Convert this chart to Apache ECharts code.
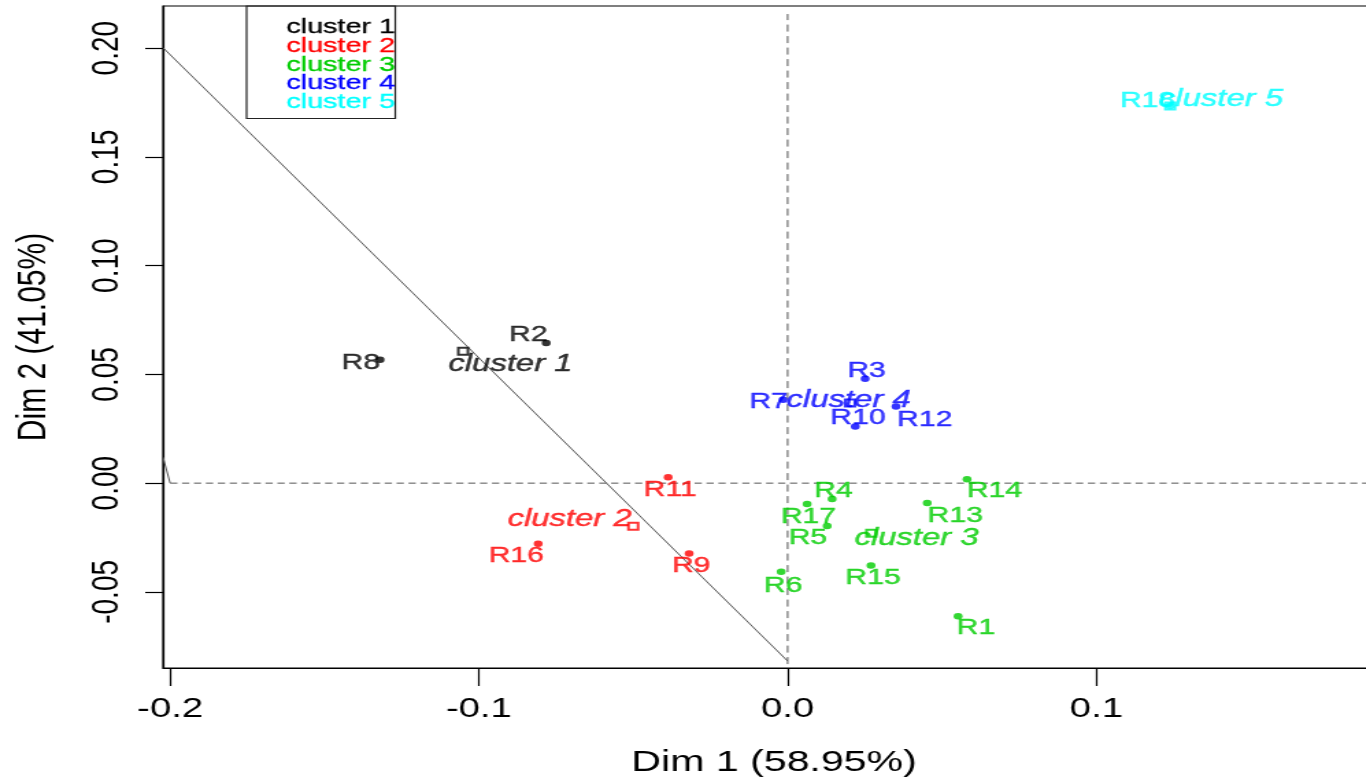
<!DOCTYPE html>
<html>
<head>
<meta charset="utf-8">
<script src="https://cdn.jsdelivr.net/npm/echarts@6/dist/echarts.min.js"></script>
<style>
  html, body { margin: 0; padding: 0; overflow: hidden; background: #fff; }
  /* the reference plot is stretched sideways, so draw narrow and widen it */
  #chart { width: 1011px; height: 783px; transform: scaleX(1.37); transform-origin: 0 0; }
</style>
</head>
<body>
<div id="chart"></div>
<script>
// individuals, Dim 1 / Dim 2 coordinates and their cluster (0-based)
let rowNames = ['R8', 'R2', 'R11', 'R16', 'R9', 'R14', 'R4', 'R17', 'R5', 'R13', 'R15', 'R6', 'R1', 'R3', 'R7', 'R12', 'R10', 'R18'];
let dim1 = [-0.1320, -0.0782, -0.0387, -0.0808, -0.0319, 0.0581, 0.0144, 0.0063, 0.0128, 0.0452, 0.0270, -0.0021, 0.0552, 0.0251, -0.0015, 0.0351, 0.0219, 0.1239];
let dim2 = [0.0567, 0.0644, 0.0027, -0.0279, -0.0324, 0.0018, -0.0073, -0.0096, -0.0197, -0.0091, -0.0379, -0.0407, -0.0612, 0.0480, 0.0384, 0.0352, 0.0261, 0.1734];
let clusterOf = [0, 0, 1, 1, 1, 2, 2, 2, 2, 2, 2, 2, 2, 3, 3, 3, 3, 4];

// cluster centres
let clusterNames = ['cluster 1', 'cluster 2', 'cluster 3', 'cluster 4', 'cluster 5'];
let centreDim1 = [-0.1051, -0.0500, 0.0271, 0.0202, 0.1239];
let centreDim2 = [0.0606, -0.0198, -0.0230, 0.0369, 0.1734];

// tick labels
let xTicks = [-0.2, -0.1, 0.0, 0.1];
let yTicks = [-0.05, 0.00, 0.05, 0.10, 0.15, 0.20];

// extra lines of the original plot
let diagLine = [[-0.2023, 0.2002], [0.0, -0.0818]];
let stubLine = [[-0.2023, 0.0119], [-0.2, 0.0]];

let colors = ['#000000', '#ff0000', '#00cd00', '#0000ff', '#00ffff'];
let font = 'Liberation Sans, Arial, sans-serif';

// where each text sits relative to its point (layout only)
let labelShift = {
  R8: [-14, 3], R2: [-13, -8], R11: [1.5, 13], R16: [-16, 12], R9: [1.5, 12],
  R14: [20, 12], R4: [1, -8], R17: [1, 13], R5: [-14, 12], R13: [20.5, 13],
  R15: [1.5, 12], R6: [1.5, 14], R1: [13, 12], R3: [1, -8], R7: [-10.5, 2],
  R12: [21, 13], R10: [2, -8], R18: [-16.5, -5]
};
let centreShift = [[34.5, 13], [-46.5, -7], [33, 5], [-1, -3], [37, -7]];

let xMin = -0.2023, xMax = 0.1935, yMin = -0.085, yMax = 0.2194;

let series = [];

let refLine = (data, type) => ({
  type: 'line', data: data, symbol: 'none', silent: true, z: 1,
  lineStyle: { color: '#555', width: 1, type: type }, animation: false
});
series.push(refLine(diagLine, 'solid'));
series.push(refLine(stubLine, 'solid'));
series.push(refLine([[-0.2, 0], [xMax, 0]], [5.3, 3.4]));
series.push(refLine([[0, -0.0832], [0, 0.2157]], [7, 4.5]));

clusterNames.forEach((name, k) => {
  let pts = [];
  for (let i = 0; i < rowNames.length; i++) {
    if (clusterOf[i] !== k) continue;
    pts.push({
      name: rowNames[i],
      value: [dim1[i], dim2[i]],
      label: { offset: labelShift[rowNames[i]] }
    });
  }
  series.push({
    name: name,
    type: 'scatter',
    symbol: 'circle',
    symbolSize: 6.5,
    z: 3,
    itemStyle: { color: colors[k] },
    label: {
      show: true, position: 'inside', formatter: '{b}',
      color: colors[k], fontSize: 22, fontFamily: font,
      textBorderColor: colors[k], textBorderWidth: 0.4,
      align: 'center', verticalAlign: 'middle'
    },
    data: pts,
    animation: false
  });
});

series.push({
  name: 'centres',
  type: 'scatter',
  symbol: 'emptyRect',
  symbolSize: 7,
  z: 2,
  data: clusterNames.map((n, k) => ({
    name: n,
    value: [centreDim1[k], centreDim2[k]],
    itemStyle: { color: colors[k], borderColor: colors[k] },
    label: { color: colors[k], textBorderColor: colors[k], offset: centreShift[k] }
  })),
  label: {
    show: true, position: 'inside', formatter: '{b}',
    fontSize: 24, fontStyle: 'italic', fontFamily: font, textBorderWidth: 0.4,
    align: 'center', verticalAlign: 'middle'
  },
  animation: false
});

let chart = echarts.init(document.getElementById('chart'));
chart.setOption({
  backgroundColor: '#fff',
  animation: false,
  textStyle: { fontFamily: font },
  grid: { left: 119, right: 0, top: 6, bottom: 111, show: true, borderColor: '#000', borderWidth: 1.2 },
  legend: {
    orient: 'vertical',
    left: 180, top: 6,
    icon: 'none',
    itemWidth: 0, itemHeight: 18.5, itemGap: -2.5,
    padding: [10.5, 0, 5.5, 24],
    borderColor: '#222', borderWidth: 1.2,
    selectedMode: false,
    textStyle: { fontSize: 21, fontFamily: font, textBorderWidth: 0.3 },
    data: clusterNames.map((n, k) => ({ name: n, textStyle: { color: colors[k], textBorderColor: colors[k] } }))
  },
  xAxis: {
    type: 'value', position: 'bottom', min: xMin, max: xMax,
    splitLine: { show: false },
    axisLine: { show: true, onZero: false, lineStyle: { color: '#000', width: 1.2 } },
    axisTick: { show: true, customValues: xTicks, length: 18, lineStyle: { color: '#000', width: 1.2 } },
    axisLabel: {
      customValues: xTicks, margin: 27, fontSize: 28, color: '#000', fontFamily: font,
      formatter: (v) => v.toFixed(1)
    },
    name: 'Dim 1 (58.95%)', nameLocation: 'middle', nameGap: 80,
    nameTextStyle: { fontSize: 30, color: '#000', fontFamily: font }
  },
  yAxis: {
    type: 'value', min: yMin, max: yMax,
    splitLine: { show: false },
    axisLine: { show: true, onZero: false, lineStyle: { color: '#000', width: 1.2 } },
    axisTick: { show: true, customValues: yTicks, length: 13, lineStyle: { color: '#000', width: 1.2 } },
    axisLabel: {
      customValues: yTicks, rotate: 90, margin: 27, fontSize: 28, color: '#000', fontFamily: font,
      formatter: (v) => v.toFixed(2)
    },
    name: 'Dim 2 (41.05%)', nameLocation: 'middle', nameGap: 79,
    nameTextStyle: { fontSize: 30, color: '#000', fontFamily: font }
  },
  series: series
});
</script>
</body>
</html>
